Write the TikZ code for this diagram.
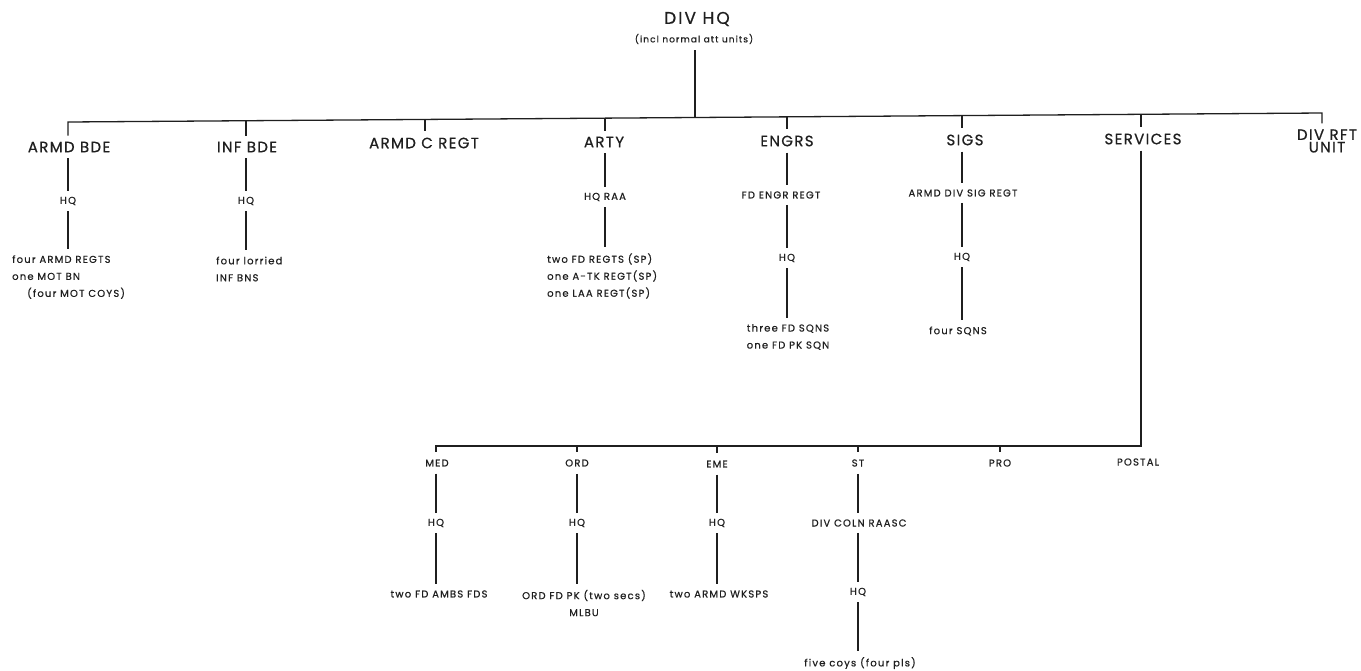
\documentclass[tikz,border=0pt]{standalone}
\usepackage{fontspec}
\setmainfont{Poppins}[LetterSpace=12, FakeBold=0.6]
\begin{document}
\begin{tikzpicture}[x=1pt,y=-1pt,
  ln/.style={draw=black!88, line width=1.3pt},
  base/.style={inner xsep=0pt, text=black!88},
  big/.style={base, inner ysep=7pt, font=\fontsize{17}{20}\selectfont},
  lvl/.style={base, inner ysep=6pt, font=\fontsize{15}{12.5}\selectfont\addfontfeature{LetterSpace=9}, align=center},
  sm/.style={base, inner ysep=6pt, font=\fontsize{10}{17}\selectfont, align=center},
  smL/.style={sm, align=left},
  tiny/.style={base, inner ysep=6pt, font=\fontsize{9}{10}\selectfont},
]
\useasboundingbox[fill=white] (0,0) rectangle (1361,670);

% top
\node[big] (divhq) at (697,19) {DIV HQ};
\node[tiny] (incl) at (694,39) {(incl normal att units)};

% bar coordinates
\coordinate (t1) at (68,122);
\coordinate (t2) at (246,120.7);
\coordinate (t3) at (425,119.4);
\coordinate (t4) at (605,118.1);
\coordinate (t0) at (695,117.5);
\coordinate (t5) at (787,116.8);
\coordinate (t6) at (962,115.6);
\coordinate (t7) at (1141,114.3);
\coordinate (t8) at (1322,113);

% level 1
\node[lvl] (armd) at (69,147) {ARMD BDE};
\node[lvl] (inf) at (247,147) {INF BDE};
\node[lvl] (armdc) at (424,143) {ARMD C REGT};
\node[lvl] (arty) at (604,142) {ARTY};
\node[lvl] (engrs) at (787,141) {ENGRS};
\node[lvl] (sigs) at (965,140) {SIGS};
\node[lvl] (services) at (1143,139) {SERVICES};
\node[lvl] (divrft) at (1327,141) {DIV RFT\\UNIT};

\draw[ln] (incl.south -| t0) -- (t0);
\draw[ln] (t1 |- armd.north) -- (t1) -- (t8) -- (t8 |- divrft.north);
\draw[ln] (t2) -- (t2 |- inf.north);
\draw[ln] (t3) -- (t3 |- armdc.north);
\draw[ln] (t4) -- (t4 |- arty.north);
\draw[ln] (t5) -- (t5 |- engrs.north);
\draw[ln] (t6) -- (t6 |- sigs.north);
\draw[ln] (t7) -- (t7 |- services.north);

% ARMD BDE
\node[sm] (armdhq) at (68,201) {HQ};
\node[smL, anchor=west] (armdu) at (12,277) {four ARMD REGTS\\one MOT BN\\\hspace*{15pt}(four MOT COYS)};
\draw[ln] (armdhq |- armd.south) -- (armdhq);
\draw[ln] (armdhq) -- (armdhq |- armdu.north);

% INF BDE
\node[sm] (infhq) at (246,201) {HQ};
\node[smL, anchor=west] (infu) at (216,269) {four lorried\\INF BNS};
\draw[ln] (infhq |- inf.south) -- (infhq);
\draw[ln] (infhq) -- (infhq |- infu.north);

% ARTY
\node[sm] (artyhq) at (605,197) {HQ RAA};
\node[smL, anchor=west] (artyu) at (547,276) {two FD REGTS (SP)\\one A-TK REGT(SP)\\one LAA REGT(SP)};
\draw[ln] (artyhq |- arty.south) -- (artyhq);
\draw[ln] (artyhq) -- (artyhq |- artyu.north);

% ENGRS
\node[sm] (engreg) at (781,195) {FD ENGR REGT};
\node[sm] (engrhq) at (787,258) {HQ};
\node[sm] (engru) at (788,337) {three FD SQNS\\one FD PK SQN};
\draw[ln] (engrhq |- engrs.south) -- (engrhq |- engreg.north);
\draw[ln] (engrhq |- engreg.south) -- (engrhq);
\draw[ln] (engrhq) -- (engrhq |- engru.north);

% SIGS
\node[sm] (sigreg) at (963,193) {ARMD DIV SIG REGT};
\node[sm] (sighq) at (962,257) {HQ};
\node[sm] (sigu) at (958,331) {four SQNS};
\draw[ln] (sighq |- sigs.south) -- (sighq |- sigreg.north);
\draw[ln] (sighq |- sigreg.south) -- (sighq);
\draw[ln] (sighq) -- (sighq |- sigu.north);

% SERVICES
\coordinate (sR) at (1141,446);
\coordinate (sL) at (436,446);
\node[sm, inner ysep=7pt] (med) at (437,463) {MED};
\node[sm, inner ysep=7pt] (ord) at (577,463) {ORD};
\node[sm, inner ysep=7pt] (eme) at (717,464) {EME};
\node[sm, inner ysep=7pt] (st) at (858,463) {ST};
\node[sm, inner ysep=7pt] (pro) at (1000,463) {PRO};
\node[sm] (postal) at (1138,462) {POSTAL};
\draw[ln] (t7 |- services.south) -- (sR) -- (sL) -- (sL |- med.north);
\draw[ln] (ord.north |- sL) -- (ord.north);
\draw[ln] (eme.north |- sL) -- (eme.north);
\draw[ln] (st.north |- sL) -- (st.north);
\draw[ln] (pro.north |- sL) -- (pro.north);

% MED
\node[sm] (medhq) at (436,523) {HQ};
\node[sm] (medu) at (439,594) {two FD AMBS FDS};
\draw[ln] (medhq |- med.south) -- (medhq);
\draw[ln] (medhq) -- (medhq |- medu.north);

% ORD
\node[sm] (ordhq) at (577,523) {HQ};
\node[sm] (ordu) at (584,603) {ORD FD PK (two secs)\\MLBU};
\draw[ln] (ordhq |- ord.south) -- (ordhq);
\draw[ln] (ordhq) -- (ordhq |- ordu.north);

% EME
\node[sm] (emehq) at (717,523) {HQ};
\node[sm] (emeu) at (719,594) {two ARMD WKSPS};
\draw[ln] (emehq |- eme.south) -- (emehq);
\draw[ln] (emehq) -- (emehq |- emeu.north);

% ST
\node[sm] (stcoln) at (859,523) {DIV COLN RAASC};
\node[sm] (sthq) at (858,592) {HQ};
\node[sm] (stu) at (860,663) {five coys (four pls)};
\draw[ln] (sthq |- st.south) -- (sthq |- stcoln.north);
\draw[ln] (sthq |- stcoln.south) -- (sthq);
\draw[ln] (sthq) -- (sthq |- stu.north);
\end{tikzpicture}
\end{document}
